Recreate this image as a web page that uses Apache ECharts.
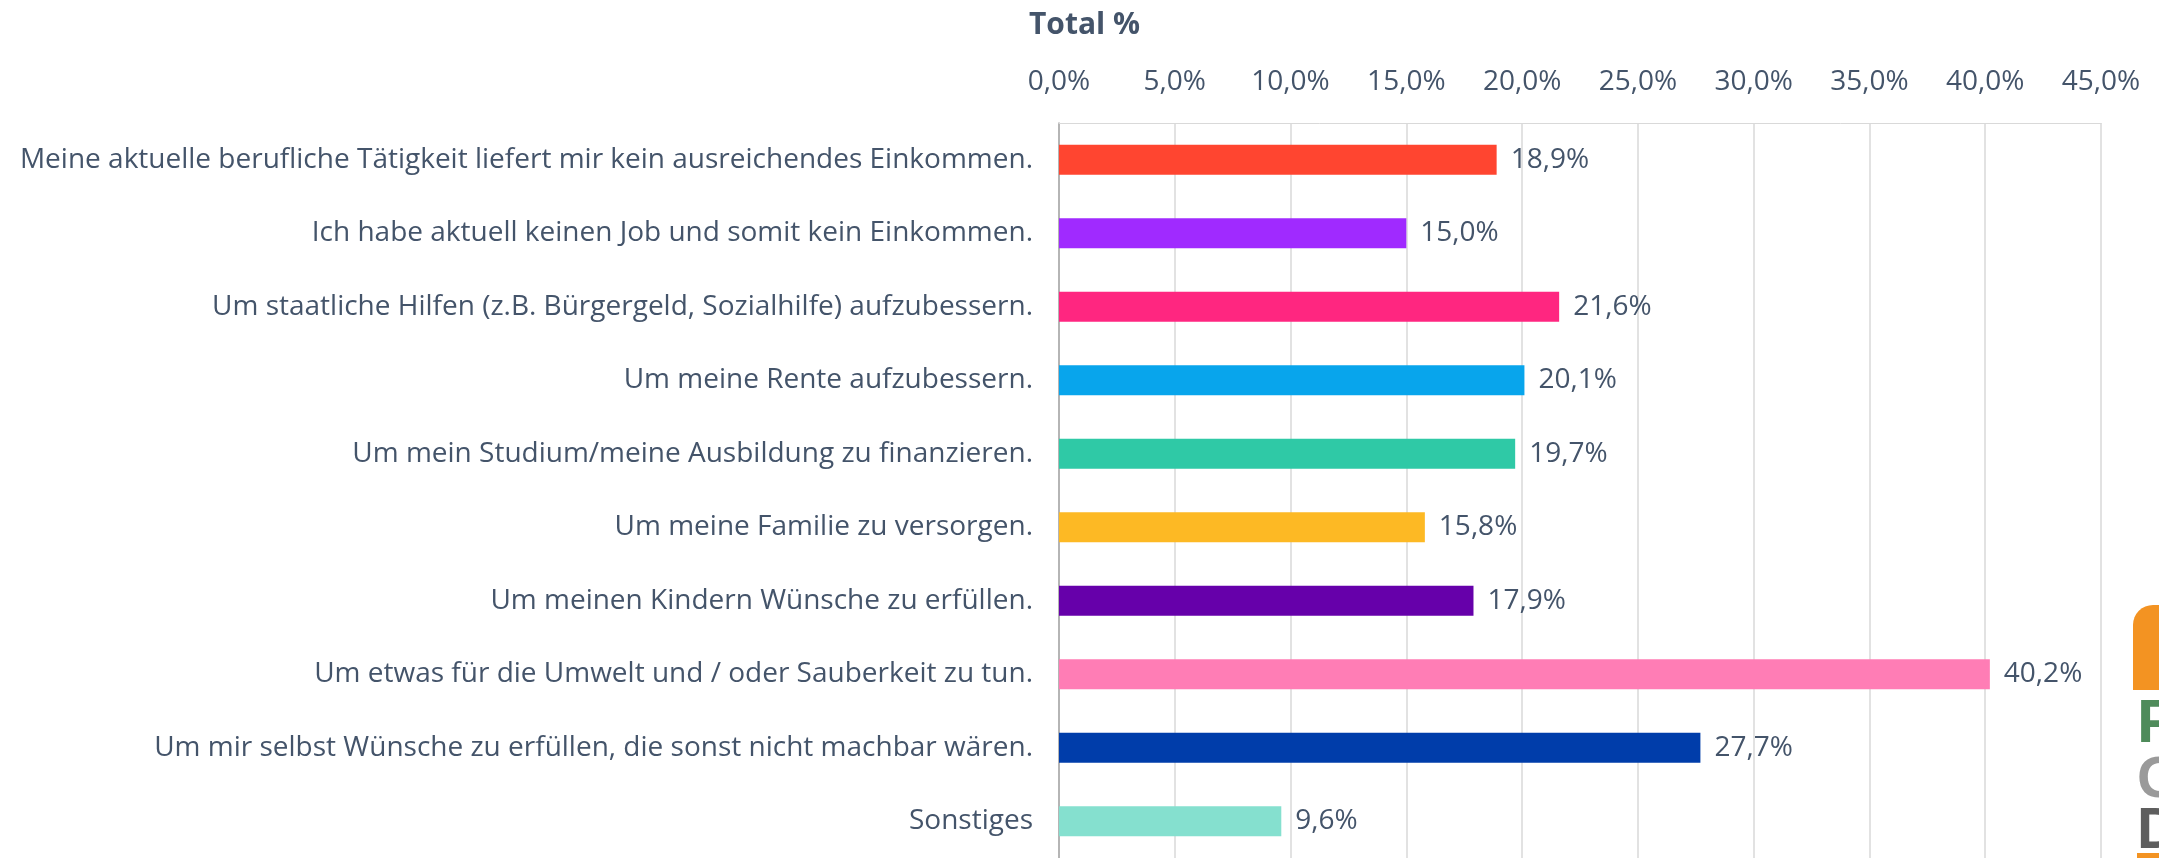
<!DOCTYPE html>
<html lang="de">
<head>
  <meta charset="UTF-8">
  <title>Total %</title>
  <script src="https://cdn.jsdelivr.net/npm/echarts@6/dist/echarts.min.js"></script>
  <style>
    html, body { margin: 0; padding: 0; background: #fff; }
    #chart { width: 2159px; height: 858px; }
  </style>
</head>
<body>
  <div id="chart"></div>
  <script>
    var categories = [
      'Meine aktuelle berufliche Tätigkeit liefert mir kein ausreichendes Einkommen.',
      'Ich habe aktuell keinen Job und somit kein Einkommen.',
      'Um staatliche Hilfen (z.B. Bürgergeld, Sozialhilfe) aufzubessern.',
      'Um meine Rente aufzubessern.',
      'Um mein Studium/meine Ausbildung zu finanzieren.',
      'Um meine Familie zu versorgen.',
      'Um meinen Kindern Wünsche zu erfüllen.',
      'Um etwas für die Umwelt und / oder Sauberkeit zu tun.',
      'Um mir selbst Wünsche zu erfüllen, die sonst nicht machbar wären.',
      'Sonstiges'
    ]
    var values = [18.9, 15.0, 21.6, 20.1, 19.7, 15.8, 17.9, 40.2, 27.7, 9.6]
    var barColors = ['#FF4530', '#A02AFF', '#FF2680', '#08A5EC', '#2FC9A6',
      '#FDB924', '#6600AA', '#FF7DB5', '#003DAA', '#85E0CF']

    var textColor = '#44546A'
    var font = '"Open Sans", sans-serif'

    function pct (v) {
      return v.toFixed(1).replace('.', ',') + '%'
    }

    var chart = echarts.init(document.getElementById('chart'))
    chart.setOption({
      animation: false,
      title: {
        text: 'Total %',
        left: 1024,
        top: 5,
        textStyle: { color: textColor, fontFamily: font, fontSize: 30, fontWeight: 'bold' }
      },
      grid: { left: 1059, right: 58, top: 123, bottom: -1, containLabel: false },
      xAxis: {
        type: 'value',
        position: 'top',
        min: 0,
        max: 45,
        interval: 5,
        axisLine: { show: true, lineStyle: { color: '#d9d9d9', width: 1 } },
        axisTick: { show: false },
        splitLine: { show: true, lineStyle: { color: '#d9d9d9', width: 1.5 } },
        axisLabel: {
          margin: 27,
          color: textColor,
          fontFamily: font,
          fontSize: 28,
          formatter: pct
        }
      },
      yAxis: {
        type: 'category',
        inverse: true,
        data: categories,
        axisLine: { show: true, lineStyle: { color: '#a6a6a6', width: 1.5 } },
        axisTick: { show: false },
        axisLabel: {
          margin: 26,
          color: textColor,
          fontFamily: font,
          fontSize: 28
        }
      },
      series: [{
        type: 'bar',
        barWidth: 30,
        data: values.map(function (v, i) {
          return { value: v, itemStyle: { color: barColors[i] } }
        }),
        label: {
          show: true,
          position: 'right',
          distance: 14,
          color: textColor,
          fontFamily: font,
          fontSize: 28,
          formatter: function (p) { return pct(p.value) }
        }
      }],
      graphic: [
        // angeschnittenes Logo am rechten Rand
        { type: 'rect', shape: { x: 2133, y: 605, width: 40, height: 85, r: [20, 0, 0, 0] }, style: { fill: '#F39322' } },
        { type: 'text', x: 2137, y: 694, style: { text: 'P', fill: '#4E8B5A', font: 'bold 62px "Liberation Sans Narrow", sans-serif' } },
        { type: 'text', x: 2137, y: 752, style: { text: 'G', fill: '#9A9A9A', font: 'bold 58px "Liberation Sans Narrow", sans-serif' } },
        { type: 'text', x: 2137, y: 803, style: { text: 'D', fill: '#5E5E5E', font: 'bold 58px "Liberation Sans Narrow", sans-serif' } },
        { type: 'rect', shape: { x: 2137, y: 853, width: 30, height: 6 }, style: { fill: '#F39322' } }
      ]
    })
  </script>
</body>
</html>
